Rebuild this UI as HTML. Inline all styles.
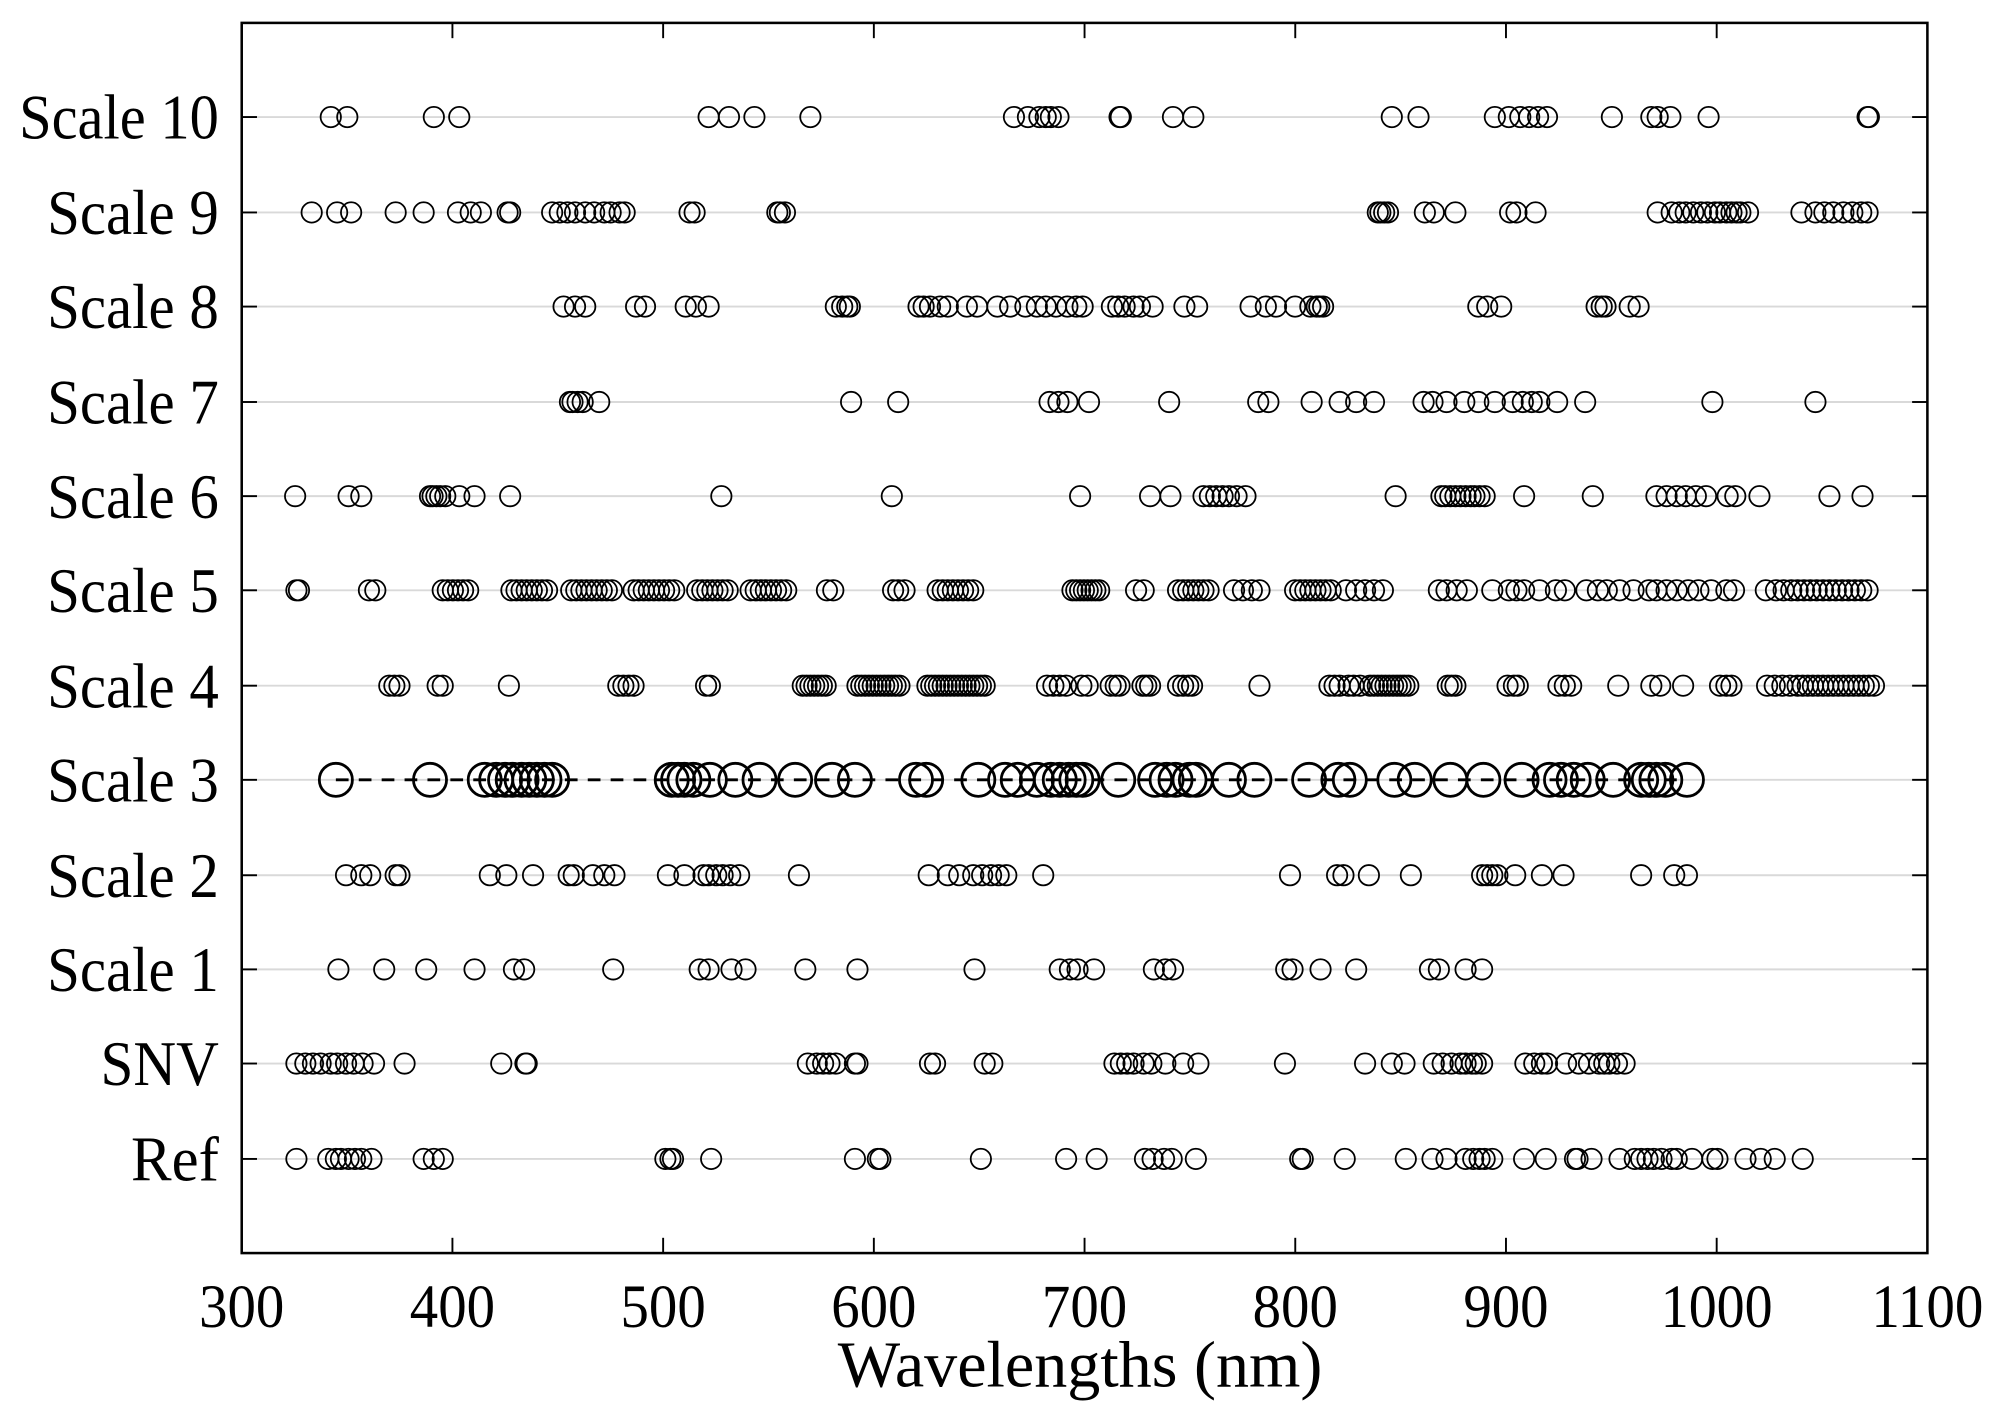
<!DOCTYPE html>
<html><head><meta charset="utf-8"><style>
html,body{margin:0;padding:0;background:#fff;}
svg{display:block;}
text{font-family:"Liberation Serif",serif;fill:#000;}
</style></head><body>
<svg id="s" width="1991" height="1421" viewBox="0 0 1565 1117" preserveAspectRatio="none" xmlns="http://www.w3.org/2000/svg">
<rect x="0" y="0" width="1565" height="1117" fill="#fff"/>
<g id="grid"></g>
<g id="pts" fill="none" stroke="#000" stroke-width="1.4"></g>
<rect x="190" y="18" width="1325" height="967" fill="none" stroke="#000" stroke-width="2"/>
<g id="ticks" stroke="#000" stroke-width="1.5"></g>
<g id="labels"></g>
<text x="849" y="1090" font-size="52" text-anchor="middle" textLength="381" lengthAdjust="spacingAndGlyphs">Wavelengths (nm)</text>
</svg>
<script>
var NS="http://www.w3.org/2000/svg";
function el(t,a,p){var e=document.createElementNS(NS,t);for(var k in a)e.setAttribute(k,a[k]);document.getElementById(p).appendChild(e);return e;}
function rng(a,b,s){var r=[];for(var x=a;x<=b+0.01;x+=s)r.push(x);return r;}
var rows=[
["Scale 10",92,[260,273,341,361,557,573,593,637,797,808,817,822,826,832,880,881,922,938,1094,1115,1175,1186,1195,1202,1209,1216,1267,1298,1303,1313,1343,1468,1469]],
["Scale 9",167,[245,265,276,311,333,360,370,378,399,401,434,440,446,452,460,467,475,480,487,491,542,546,611,613,617,1083,1085,1088,1091,1120,1127,1144,1187,1192,1207,1303,1314,1320,1325,1331,1337,1342,1348,1352,1357,1361,1365,1368,1374,1416,1427,1434,1441,1449,1456,1463,1468]],
["Scale 8",241,[443,452,460,500,507,539,547,557,657,662,666,668,722,726,731,739,745,760,768,784,794,806,815,822,830,839,846,851,874,879,884,891,896,906,931,941,983,995,1003,1018,1030,1035,1037,1040,1162,1169,1180,1255,1259,1262,1281,1288]],
["Scale 7",316,[448,450,454,458,471,669,706,825,832,839,856,919,989,997,1031,1053,1066,1080,1119,1126,1137,1151,1162,1175,1189,1197,1204,1210,1224,1246,1346,1427]],
["Scale 6",390,[232,274,284,338,340,343,346,350,361,373,401,567,701,849,904,920,946,951,956,961,966,972,979,1097,1133,1136,1140,1144,1148,1152,1156,1159,1163,1167,1198,1252,1302,1310,1318,1325,1333,1341,1358,1364,1383,1438,1464]],
["Scale 5",464,[].concat([233,235,290,295],rng(348,370,4),rng(402,432,4),rng(449,483,4),rng(498,530,4),rng(548,575,4),rng(590,618,4),[650,655,702,706,711],rng(737,767,4),rng(843,865,3),[893,899],rng(926,952,4),[970,977,984,990],rng(1018,1046,4),[1058,1066,1073,1080,1087,1131,1137,1145,1153,1173,1186,1192,1198,1210,1223,1230,1247,1256,1263,1273,1284,1296,1302,1310,1318,1327,1335,1345,1357,1363,1388,1396,1402],rng(1408,1470,5))],
["Scale 4",539,[].concat([306,310,314,344,348,400,486,490,494,498,555,558],rng(631,650,3),rng(674,709,3),rng(729,776,3),[823,828,833,838,850,855,873,877,880,898,901,904,926,930,934,937,990,1045,1049,1053,1060,1064,1069],rng(1077,1108,3),[1138,1141,1144,1185,1190,1193,1225,1230,1235,1272,1298,1305,1323,1352,1357,1361,1389,1395,1401,1407],rng(1413,1476,4))],
["Scale 3",613,[264,338,381,390,397,403,410,416,422,428,434,528,533,538,545,558,578,597,625,654,672,720,728,769,790,800,815,826,833,840,846,851,879,908,917,924,935,940,966,986,1029,1052,1061,1096,1112,1140,1166,1196,1218,1227,1237,1248,1268,1290,1296,1302,1309,1326]],
["Scale 2",688,[272,284,291,311,314,385,398,419,447,451,466,475,483,525,538,553,557,563,568,574,581,628,730,745,754,765,772,779,785,791,820,1014,1051,1056,1076,1109,1165,1169,1173,1177,1191,1212,1229,1290,1316,1326]],
["Scale 1",762,[266,302,335,373,404,412,482,550,557,575,586,633,674,766,833,841,847,860,907,916,922,1011,1016,1038,1066,1124,1131,1152,1165]],
["SNV",836,[233,240,246,252,260,265,272,278,285,294,318,394,413,414,635,642,647,652,657,672,674,731,735,774,780,876,881,886,891,899,905,916,930,942,1010,1073,1094,1104,1127,1134,1141,1148,1152,1157,1160,1165,1199,1206,1212,1216,1231,1241,1249,1257,1261,1265,1271,1277]],
["Ref",911,[233,258,264,268,274,279,284,292,333,341,348,523,527,529,559,672,690,692,771,838,862,900,906,915,921,940,1022,1024,1057,1105,1126,1137,1152,1158,1163,1167,1173,1198,1215,1238,1240,1251,1273,1285,1290,1295,1300,1306,1314,1318,1330,1346,1350,1372,1384,1395,1417]]
];
var lw={"Scale 10":157,"SNV":93,"Ref":69};
rows.forEach(function(r){
  var y=r[1];
  el("line",{x1:190,x2:1515,y1:y,y2:y,stroke:"#d9d9d9","stroke-width":1.5},"grid");
  el("line",{x1:190,x2:202,y1:y,y2:y},"ticks");
  el("line",{x1:1503,x2:1515,y1:y,y2:y},"ticks");
  var t=el("text",{x:172,y:y+17,"font-size":50,"text-anchor":"end",textLength:(lw[r[0]]||135),lengthAdjust:"spacingAndGlyphs"},"labels");
  t.textContent=r[0];
  var big=r[0]=="Scale 3";
  if(big){el("line",{x1:264,x2:1326,y1:y,y2:y,"stroke-dasharray":"10,8","stroke-width":2.2},"pts");}
  r[2].forEach(function(x){el("circle",{cx:x,cy:y,r:big?13:8,"stroke-width":big?2.2:1.4},"pts");});
});
for(var v=300;v<=1100;v+=100){
  var x=190+(v-300)*1.65625;
  if(v>300&&v<1100){
    el("line",{x1:x,x2:x,y1:985,y2:973},"ticks");
    el("line",{x1:x,x2:x,y1:18,y2:30},"ticks");
  }
  var t=el("text",{x:x,y:1043,"font-size":48,"text-anchor":"middle",textLength:(v>=1000?88:67),lengthAdjust:"spacingAndGlyphs"},"labels");
  t.textContent=v;
}
</script>
</body></html>
